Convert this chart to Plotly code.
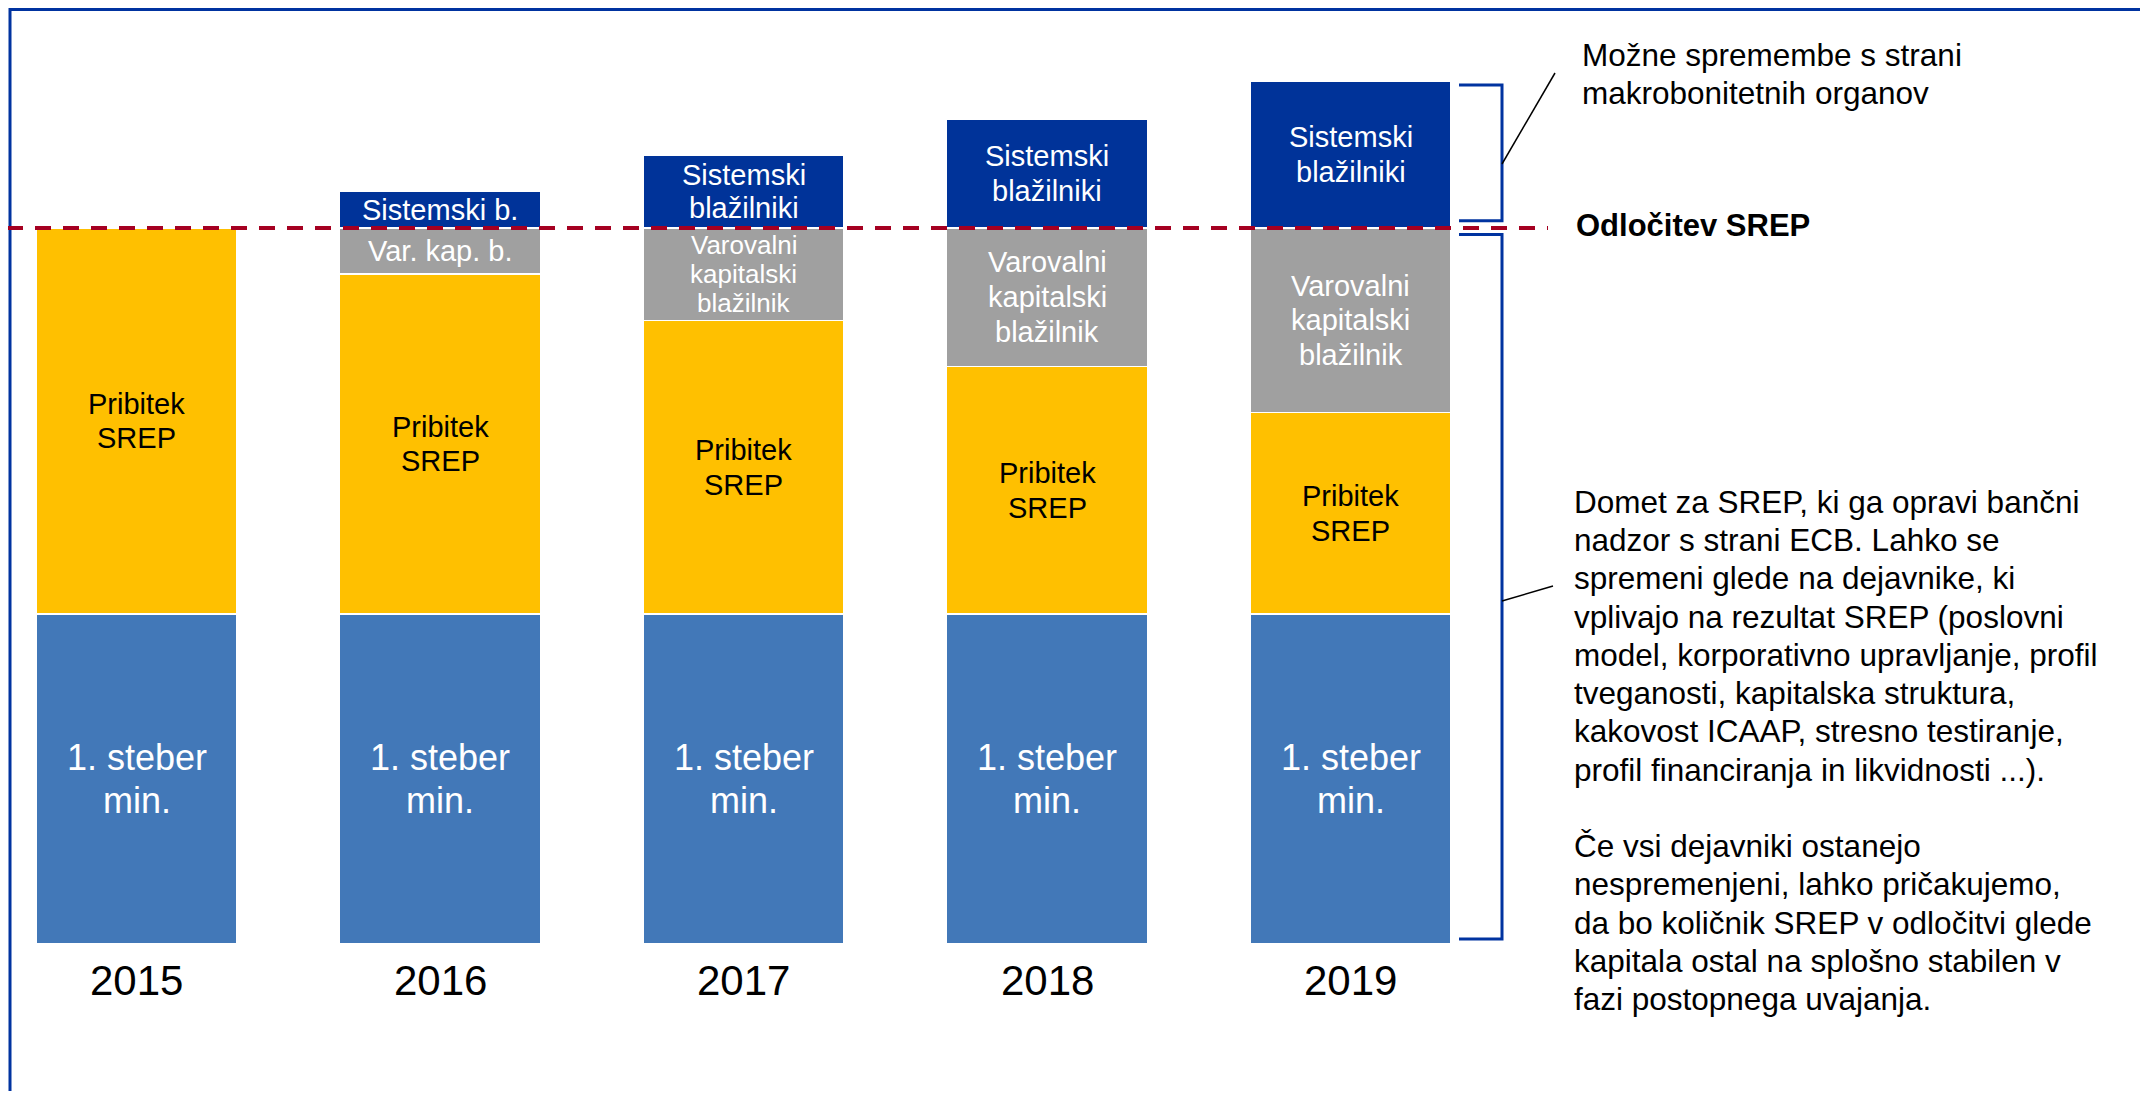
import plotly.graph_objects as go

W, H = 2148, 1099
OFF = 8  # browser body margin
FW, FH = W - OFF, H - 2 * OFF
FONT = "Liberation Sans, Arial, sans-serif"

# data (schematic units)
years = ["2015", "2016", "2017", "2018", "2019"]
steber = [10.0, 10.0, 10.0, 10.0, 10.0]
pribitek = [11.7, 10.3, 8.9, 7.5, 6.1]
varovalni = [0.0, 1.4, 2.8, 4.2, 5.6]
sistemski = [0.0, 1.1, 2.2, 3.3, 4.45]

steber_txt = ["1. steber<br>min."] * 5
pribitek_txt = ["Pribitek<br>SREP"] * 5
varovalni_txt = ["", "Var. kap. b.", "Varovalni<br>kapitalski<br>blažilnik",
                 "Varovalni<br>kapitalski<br>blažilnik", "Varovalni<br>kapitalski<br>blažilnik"]
sistemski_txt = ["", "Sistemski b.", "Sistemski<br>blažilniki",
                 "Sistemski<br>blažilniki", "Sistemski<br>blažilniki"]

note_top = ["Možne spremembe s strani", "makrobonitetnih organov"]
note_right = [
    "Domet za SREP, ki ga opravi bančni",
    "nadzor s strani ECB. Lahko se",
    "spremeni glede na dejavnike, ki",
    "vplivajo na rezultat SREP (poslovni",
    "model, korporativno upravljanje, profil",
    "tveganosti, kapitalska struktura,",
    "kakovost ICAAP, stresno testiranje,",
    "profil financiranja in likvidnosti ...).",
    "",
    "Če vsi dejavniki ostanejo",
    "nespremenjeni, lahko pričakujemo,",
    "da bo količnik SREP v odločitvi glede",
    "kapitala ostal na splošno stabilen v",
    "fazi postopnega uvajanja.",
]

# layout helpers (page pixel positions -> paper)
BASE_PX, PX_UNIT = 944 - OFF, 33.0
X0_PX, X_STEP = 136.5 - OFF, 303.5


def px(x):
    return (x - OFF) / FW


def py(y):
    return 1 - (y - OFF) / FH


series = [
    ("1. steber min.", steber, "#4278B8", steber_txt, "white", [36] * 5),
    ("Pribitek SREP", pribitek, "#FFC000", pribitek_txt, "black", [29] * 5),
    ("Varovalni kapitalski blažilnik", varovalni, "#A0A0A0", varovalni_txt, "white", [29, 29, 26, 29, 29]),
    ("Sistemski blažilniki", sistemski, "#003399", sistemski_txt, "white", [29] * 5),
]

xs = list(range(len(years)))
fig = go.Figure()
annotations = []
base = [0.0] * len(years)
for name, vals, color, labels, tcol, sizes in series:
    fig.add_trace(go.Bar(
        x=xs, y=vals, name=name, width=0.662, customdata=years,
        marker=dict(color=color, line=dict(color="white", width=1.5)),
        hovertemplate="%{customdata}: %{y}<extra>" + name + "</extra>",
    ))
    for i in xs:
        if labels[i]:
            lines = labels[i].split("<br>")
            n = len(lines)
            seg_px = vals[i] * PX_UNIT
            step = min(1.2 * sizes[i], (seg_px - 6) / n) / PX_UNIT
            mid = base[i] + vals[i] / 2
            for j, ln in enumerate(lines):
                annotations.append(dict(
                    x=i, y=mid + ((n - 1) / 2 - j) * step, xref="x", yref="y",
                    text=ln, showarrow=False,
                    font=dict(family=FONT, size=sizes[i], color=tcol),
                    xanchor="center", yanchor="middle",
                ))
        base[i] += vals[i]

srep = steber[0] + pribitek[0] + varovalni[0]
top_2019 = base[-1]

# year labels
for i, yr in enumerate(years):
    annotations.append(dict(
        x=i, y=py(980), xref="x", yref="paper", text=yr, showarrow=False,
        font=dict(family=FONT, size=42, color="black"),
        xanchor="center", yanchor="middle",
    ))

annotations.append(dict(
    x=px(1574), y=py(226), xref="paper", yref="paper",
    text="<b>Odločitev SREP</b>", showarrow=False,
    font=dict(family=FONT, size=31, color="black"),
    xanchor="left", yanchor="middle",
))
for k, line in enumerate(note_top):
    annotations.append(dict(
        x=px(1580), y=py(55 + k * 38.3), xref="paper", yref="paper",
        text=line, showarrow=False,
        font=dict(family=FONT, size=31.5, color="black"),
        xanchor="left", yanchor="middle",
    ))
for k, line in enumerate(note_right):
    if not line:
        continue
    annotations.append(dict(
        x=px(1572), y=py(502 + k * 38.23), xref="paper", yref="paper",
        text=line, showarrow=False,
        font=dict(family=FONT, size=31.5, color="black"),
        xanchor="left", yanchor="middle",
    ))

bx0, bx1 = px(1459), px(1502)
shapes = [
    # frame
    dict(type="rect", xref="paper", yref="paper", x0=px(10), x1=px(2142),
         y0=py(9.5), y1=-0.05, line=dict(color="#0033A0", width=3), layer="above"),
    # SREP decision line
    dict(type="line", xref="paper", yref="y", x0=px(7), x1=px(1548), y0=srep, y1=srep,
         line=dict(color="#A50021", width=4, dash="16px,12px"), layer="above"),
    # brackets
    dict(type="path", xref="paper", yref="y",
         path=f"M {bx0},{top_2019 - 0.12} L {bx1},{top_2019 - 0.12} L {bx1},{srep + 0.22} L {bx0},{srep + 0.22}",
         line=dict(color="#0033A0", width=3)),
    dict(type="path", xref="paper", yref="y",
         path=f"M {bx0},{srep - 0.2} L {bx1},{srep - 0.2} L {bx1},{0.15} L {bx0},{0.15}",
         line=dict(color="#0033A0", width=3)),
    # leader lines
    dict(type="line", xref="paper", yref="paper", x0=px(1502), y0=py(164), x1=px(1555), y1=py(73),
         line=dict(color="black", width=1.5)),
    dict(type="line", xref="paper", yref="paper", x0=px(1502), y0=py(601), x1=px(1553), y1=py(586),
         line=dict(color="black", width=1.5)),
]

fig.update_layout(
    width=FW, height=FH, barmode="stack", showlegend=False,
    margin=dict(l=0, r=0, t=0, b=0),
    paper_bgcolor="white", plot_bgcolor="white",
    xaxis=dict(range=[-X0_PX / X_STEP, (FW - X0_PX) / X_STEP],
               visible=False, fixedrange=True),
    yaxis=dict(range=[-(FH - BASE_PX) / PX_UNIT, BASE_PX / PX_UNIT],
               visible=False, fixedrange=True),
    annotations=annotations, shapes=shapes,
    font=dict(family=FONT),
)

fig.write_html("out.html", config={"displayModeBar": False})
